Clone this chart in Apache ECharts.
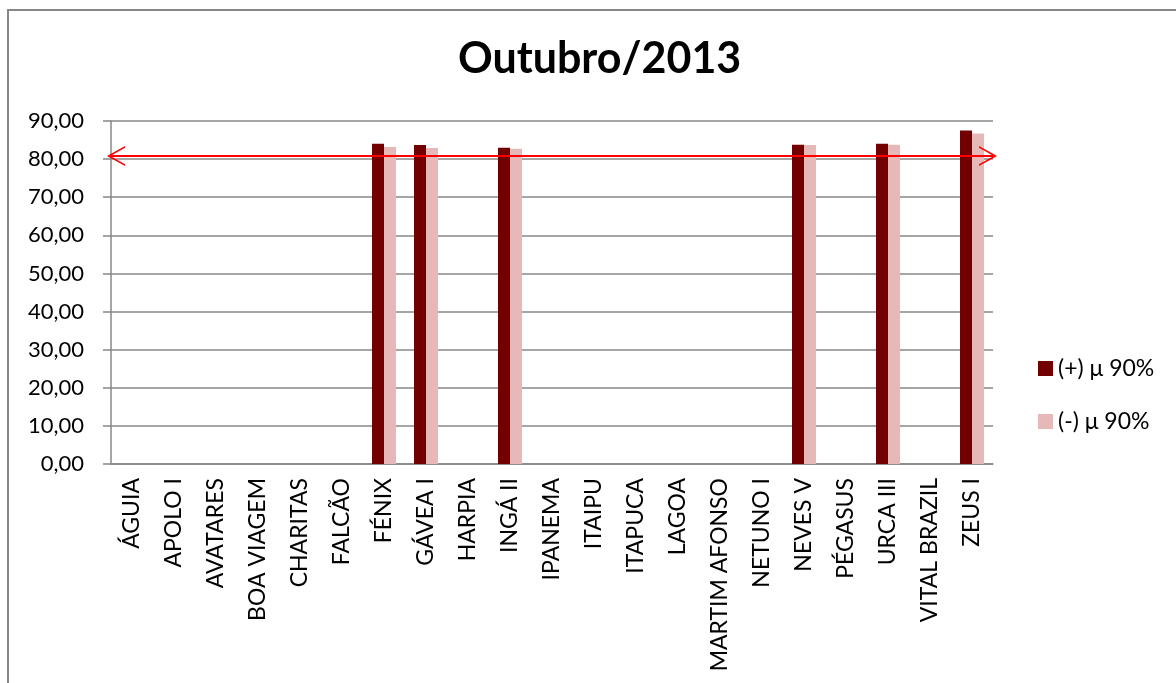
<!DOCTYPE html>
<html>
<head>
<meta charset="utf-8">
<script src="https://cdn.jsdelivr.net/npm/echarts@6/dist/echarts.min.js"></script>
<style>
  body { margin:0; background:#fff; }
  .frame { position:absolute; left:7px; top:9px; width:1200px; height:720px; border:2px solid #878787; }
  #chart { position:absolute; left:0; top:0; width:1176px; height:683px; }
</style>
</head>
<body>
<div class="frame"></div>
<div id="chart"></div>
<script>
var categories = ['ÁGUIA','APOLO I','AVATARES','BOA VIAGEM','CHARITAS','FALCÃO','FÉNIX','GÁVEA I','HARPIA','INGÁ II','IPANEMA','ITAIPU','ITAPUCA','LAGOA','MARTIM AFONSO','NETUNO I','NEVES V','PÉGASUS','URCA III','VITAL BRAZIL','ZEUS I']
var plusValues  = [null,null,null,null,null,null,84.0,83.7,null,83.0,null,null,null,null,null,null,83.8,null,84.0,null,87.5]
var minusValues = [null,null,null,null,null,null,83.2,82.9,null,82.7,null,null,null,null,null,null,83.7,null,83.8,null,86.7]
var seriesNames = ['(+) μ 90%','(-) μ 90%']
var targetLine = [80.8]
var yTicks = [0,10,20,30,40,50,60,70,80,90]

var font = 'Lato'
var grey = '#878787'
// open chevron, tip pointing up (markLine rotates it along the line)
// the tiny first subpath only stretches the box so the tip sits near the line end
var openArrow = 'path://M10,-10 L10.01,-10 L10,-9.99 Z M0,18 L10,0 L20,18 L18.3,18 L10,3.4 L1.7,18 Z'

var myChart = echarts.init(document.getElementById('chart'))
var option = {
  animation:false,
  title:{
    text:'Outubro/2013',
    left:453, top:33,
    textStyle:{ fontFamily:font, fontSize:43, fontWeight:'bold', color:'#000' }
  },
  legend:{
    orient:'vertical',
    left:1033, top:352,
    itemWidth:15, itemHeight:15, itemGap:30,
    icon:'rect',
    textStyle:{ fontFamily:font, fontSize:23, color:'#000' },
    data:seriesNames
  },
  grid:{ left:111, right:183, top:121, bottom:219, containLabel:false },
  xAxis:{
    type:'category',
    data:categories,
    axisLine:{ lineStyle:{ color:grey, width:1.5 } },
    axisTick:{ length:6, lineStyle:{ color:grey, width:1.5 } },
    axisLabel:{ rotate:90, interval:0, margin:14, fontFamily:font, fontSize:23, color:'#000' }
  },
  yAxis:{
    type:'value',
    min:yTicks[0], max:yTicks[yTicks.length-1], interval:10,
    axisLine:{ show:true, lineStyle:{ color:grey, width:1.5 } },
    axisTick:{ show:true, length:8, lineStyle:{ color:grey, width:1.5 } },
    splitLine:{ lineStyle:{ color:grey, width:1.5 } },
    axisLabel:{
      margin:27, fontFamily:font, fontSize:22, color:'#000',
      formatter:function(v){ return v.toFixed(2).replace('.',',') }
    }
  },
  series:[
    {
      name:seriesNames[0], type:'bar', barWidth:12, barGap:'0%',
      itemStyle:{ color:'#720000' },
      data:plusValues,
      markLine:{
        silent:true,
        symbol:[openArrow, openArrow],
        symbolSize:[20,28],
        label:{ show:false },
        lineStyle:{ color:'#ff0000', width:2, type:'solid' },
        data:[{ yAxis:targetLine[0] }]
      }
    },
    {
      name:seriesNames[1], type:'bar', barWidth:12,
      itemStyle:{ color:'#e6b9b8' },
      data:minusValues
    }
  ]
}
myChart.setOption(option)
</script>
</body>
</html>
